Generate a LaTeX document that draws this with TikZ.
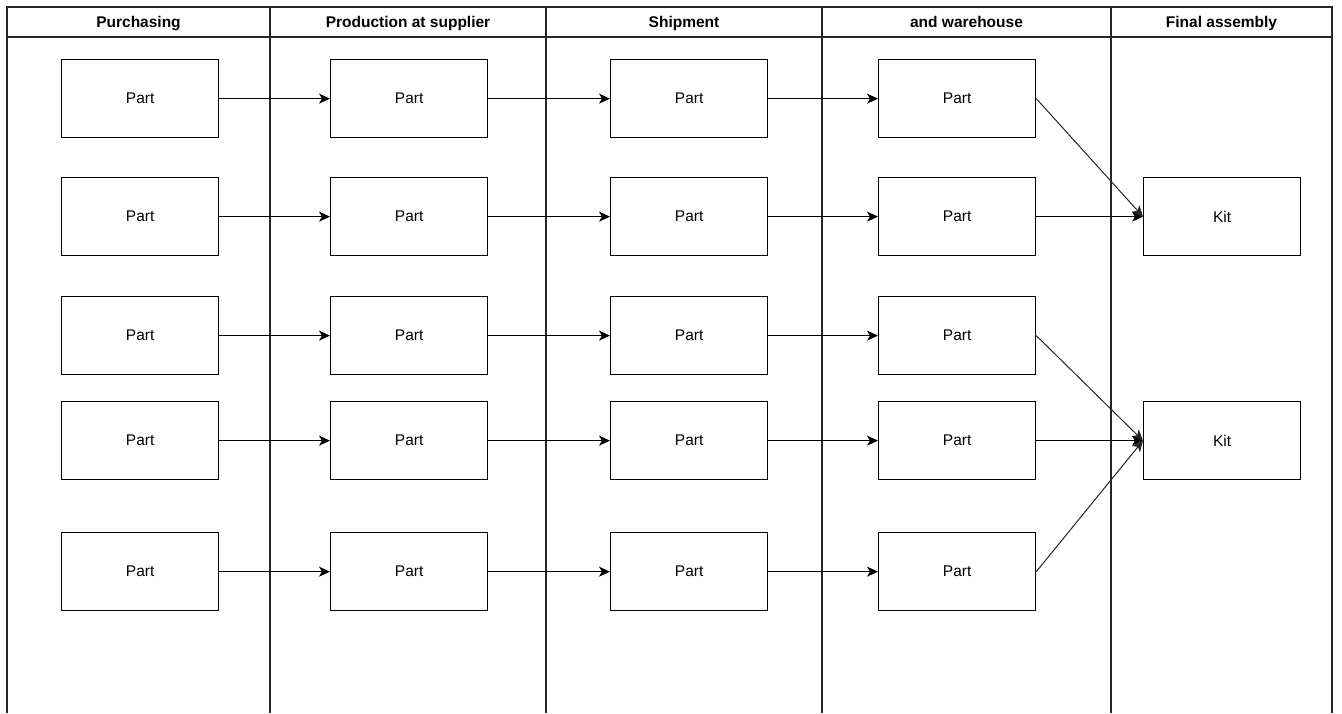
\documentclass[tikz,border=0pt]{standalone}
\usepackage{fontspec}
\setmainfont{Liberation Sans}
\usetikzlibrary{arrows.meta}
\begin{document}
\begin{tikzpicture}[x=1pt,y=-1pt,
  lane/.style={draw=black!85,line width=1.1pt},
  hdr/.style={font=\fontsize{15.5}{18}\selectfont\bfseries,anchor=base,inner sep=0pt},
  box/.style={draw=black,line width=1.3pt,minimum width=157pt,minimum height=78pt,
    inner sep=0pt,font=\fontsize{15.5}{18}\selectfont,anchor=north west},
  flow/.style={draw=black,line width=1.3pt,-{Stealth[length=11pt,width=10pt,inset=3pt]}},
  diag/.style={draw=black!85,line width=1pt,-{Stealth[length=11pt,width=10pt,inset=3pt]}}]
\useasboundingbox (0,0) rectangle (1342,713);
\fill[white] (0,0) rectangle (1342,713);

% pool frame and lanes
\coordinate (tl) at (7,7);
\coordinate (tr) at (1332,7);
\draw[lane] (7,713) -- (tl) -- (tr) -- (1332,713);
\draw[lane] (7,37) -- (1332,37);
\foreach \x in {270,546,822,1111} \draw[lane] (\x,7) -- (\x,713);

% lane headers
\node[hdr] (h1) at (138.5,27) {Purchasing};
\node[hdr] (h2) at (408,27) {Production at supplier};
\node[hdr] (h3) at (684,27) {Shipment};
\node[hdr] (h4) at (966.5,27) {and warehouse};
\node[hdr] (h5) at (1221.5,27) {Final assembly};

% part boxes: rows 1..5, columns a..d
\foreach \r/\y in {1/59,2/177,3/296,4/401,5/532}{
  \node[box] (a\r) at (61,\y) {Part};
  \node[box] (b\r) at (330,\y) {Part};
  \node[box] (c\r) at (610,\y) {Part};
  \node[box] (d\r) at (878,\y) {Part};
  \draw[flow] (a\r.east) -- (b\r.west);
  \draw[flow] (b\r.east) -- (c\r.west);
  \draw[flow] (c\r.east) -- (d\r.west);
}

% kits
\node[box] (k1) at (1143,177) {Kit};
\node[box] (k2) at (1143,401) {Kit};

\draw[diag] (d1.east) -- (k1.west);
\draw[flow] (d2.east) -- (k1.west);
\draw[diag] (d3.east) -- (k2.west);
\draw[flow] (d4.east) -- (k2.west);
\draw[diag] (d5.east) -- (k2.west);
\end{tikzpicture}
\end{document}
